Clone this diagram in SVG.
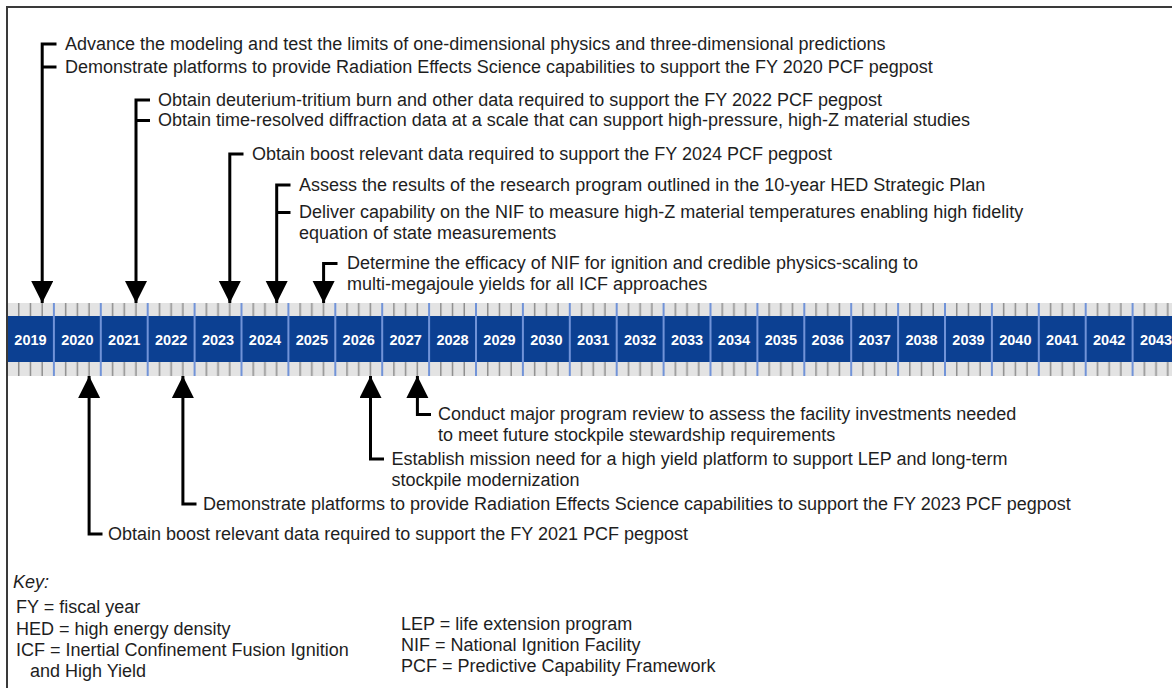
<svg xmlns="http://www.w3.org/2000/svg" width="1172" height="688" viewBox="0 0 1172 688">
  <style>
    .t { font-family: "Liberation Sans", Arial, sans-serif; font-size: 18px; fill: #1e1e1e; }
    .yr { font-family: "Liberation Sans", Arial, sans-serif; font-size: 14.5px; font-weight: bold; fill: #ffffff; text-anchor: middle; }
    .ln { fill: none; stroke: #000; stroke-width: 3; }
    .arr { fill: none; stroke: #000; stroke-width: 3; marker-end: url(#head); }
  </style>
  <defs>
    <marker id="head" markerUnits="userSpaceOnUse" markerWidth="24" markerHeight="24" refX="22" refY="11" orient="auto">
      <path d="M0,0 L22,11 L0,22 Z" fill="#000"/>
    </marker>
    <!-- quarter ticks on the grey strips, one tile per year -->
    <pattern id="ticks" patternUnits="userSpaceOnUse" x="7" y="0" width="46.9" height="20">
      <rect x="0" y="0" width="46.9" height="20" fill="#e3e3e3"/>
      <rect x="10.975" y="0" width="1.5" height="20" fill="#8e8e8e"/>
      <rect x="22.7" y="0" width="1.5" height="20" fill="#8e8e8e"/>
      <rect x="34.425" y="0" width="1.5" height="20" fill="#8e8e8e"/>
    </pattern>
    <!-- year boundaries -->
    <pattern id="divs" patternUnits="userSpaceOnUse" x="6" y="0" width="46.9" height="80">
      <rect x="0" y="0" width="2" height="80" fill="#7193d8"/>
    </pattern>
  </defs>

  <rect width="1172" height="688" fill="#ffffff"/>
  <!-- frame -->
  <path d="M7,688 V7 H1172" fill="none" stroke="#3a3a3a" stroke-width="2"/>

  <!-- timeline bar -->
  <g id="timeline">
    <rect x="8" y="303" width="1164" height="13" fill="url(#ticks)"/>
    <rect x="8" y="316" width="1164" height="46" fill="#0c4092"/>
    <rect x="8" y="362" width="1164" height="14" fill="url(#ticks)"/>
    <rect x="8" y="303" width="1164" height="73" fill="url(#divs)"/>
    <text class="yr" x="30.45" y="344.5">2019</text>
    <text class="yr" x="77.35" y="344.5">2020</text>
    <text class="yr" x="124.25" y="344.5">2021</text>
    <text class="yr" x="171.15" y="344.5">2022</text>
    <text class="yr" x="218.05" y="344.5">2023</text>
    <text class="yr" x="264.95" y="344.5">2024</text>
    <text class="yr" x="311.85" y="344.5">2025</text>
    <text class="yr" x="358.75" y="344.5">2026</text>
    <text class="yr" x="405.65" y="344.5">2027</text>
    <text class="yr" x="452.55" y="344.5">2028</text>
    <text class="yr" x="499.45" y="344.5">2029</text>
    <text class="yr" x="546.35" y="344.5">2030</text>
    <text class="yr" x="593.25" y="344.5">2031</text>
    <text class="yr" x="640.15" y="344.5">2032</text>
    <text class="yr" x="687.05" y="344.5">2033</text>
    <text class="yr" x="733.95" y="344.5">2034</text>
    <text class="yr" x="780.85" y="344.5">2035</text>
    <text class="yr" x="827.75" y="344.5">2036</text>
    <text class="yr" x="874.65" y="344.5">2037</text>
    <text class="yr" x="921.55" y="344.5">2038</text>
    <text class="yr" x="968.45" y="344.5">2039</text>
    <text class="yr" x="1015.35" y="344.5">2040</text>
    <text class="yr" x="1062.25" y="344.5">2041</text>
    <text class="yr" x="1109.15" y="344.5">2042</text>
    <text class="yr" x="1156.05" y="344.5">2043</text>
  </g>

  <!-- pointers from milestones to the bar -->
  <g id="connectors">
    <path class="arr" d="M56.5,44 H42.2 V303"/>
    <path class="ln" d="M42.2,67 H56.5"/>
    <path class="arr" d="M150,100 H136 V303"/>
    <path class="ln" d="M136,120.5 H150"/>
    <path class="arr" d="M243.5,154 H229.8 V303"/>
    <path class="arr" d="M290.5,185 H276.7 V303"/>
    <path class="ln" d="M276.7,212.5 H290.5"/>
    <path class="arr" d="M337.5,263.5 H323.6 V303"/>
    <path class="arr" d="M431,414.5 H417.4 V376"/>
    <path class="arr" d="M384,459 H370.5 V376"/>
    <path class="arr" d="M196.5,504 H182.9 V376"/>
    <path class="arr" d="M102.5,534 H89.1 V376"/>
  </g>

  <g id="m2019">
    <text class="t" x="65" y="49.5">Advance the modeling and test the limits of one-dimensional physics and three-dimensional predictions</text>
    <text class="t" x="65" y="72.5">Demonstrate platforms to provide Radiation Effects Science capabilities to support the FY 2020 PCF pegpost</text>
  </g>
  <g id="m2021">
    <text class="t" x="158" y="105.5">Obtain deuterium-tritium burn and other data required to support the FY 2022 PCF pegpost</text>
    <text class="t" x="158" y="126">Obtain time-resolved diffraction data at a scale that can support high-pressure, high-Z material studies</text>
  </g>
  <g id="m2023">
    <text class="t" x="252" y="159.5">Obtain boost relevant data required to support the FY 2024 PCF pegpost</text>
  </g>
  <g id="m2024">
    <text class="t" x="299" y="190.5">Assess the results of the research program outlined in the 10-year HED Strategic Plan</text>
    <text class="t" x="299" y="218">Deliver capability on the NIF to measure high-Z material temperatures enabling high fidelity</text>
    <text class="t" x="299" y="239">equation of state measurements</text>
  </g>
  <g id="m2025">
    <text class="t" x="347" y="269">Determine the efficacy of NIF for ignition and credible physics-scaling to</text>
    <text class="t" x="347" y="290">multi-megajoule yields for all ICF approaches</text>
  </g>
  <g id="m2027">
    <text class="t" x="438" y="420">Conduct major program review to assess the facility investments needed</text>
    <text class="t" x="438" y="441">to meet future stockpile stewardship requirements</text>
  </g>
  <g id="m2026">
    <text class="t" x="391.5" y="464.5">Establish mission need for a high yield platform to support LEP and long-term</text>
    <text class="t" x="391.5" y="485.5">stockpile modernization</text>
  </g>
  <g id="m2022">
    <text class="t" x="203" y="509.5">Demonstrate platforms to provide Radiation Effects Science capabilities to support the FY 2023 PCF pegpost</text>
  </g>
  <g id="m2020">
    <text class="t" x="108" y="540">Obtain boost relevant data required to support the FY 2021 PCF pegpost</text>
  </g>

  <g id="key">
    <text class="t" x="13" y="587.5" font-style="italic">Key:</text>
    <text class="t" x="16" y="613">FY = fiscal year</text>
    <text class="t" x="16" y="634.5">HED = high energy density</text>
    <text class="t" x="16" y="655.5">ICF = Inertial Confinement Fusion Ignition</text>
    <text class="t" x="30" y="676.5">and High Yield</text>
    <text class="t" x="401" y="629.5">LEP = life extension program</text>
    <text class="t" x="401" y="650.5">NIF = National Ignition Facility</text>
    <text class="t" x="401" y="671.5">PCF = Predictive Capability Framework</text>
  </g>
</svg>
